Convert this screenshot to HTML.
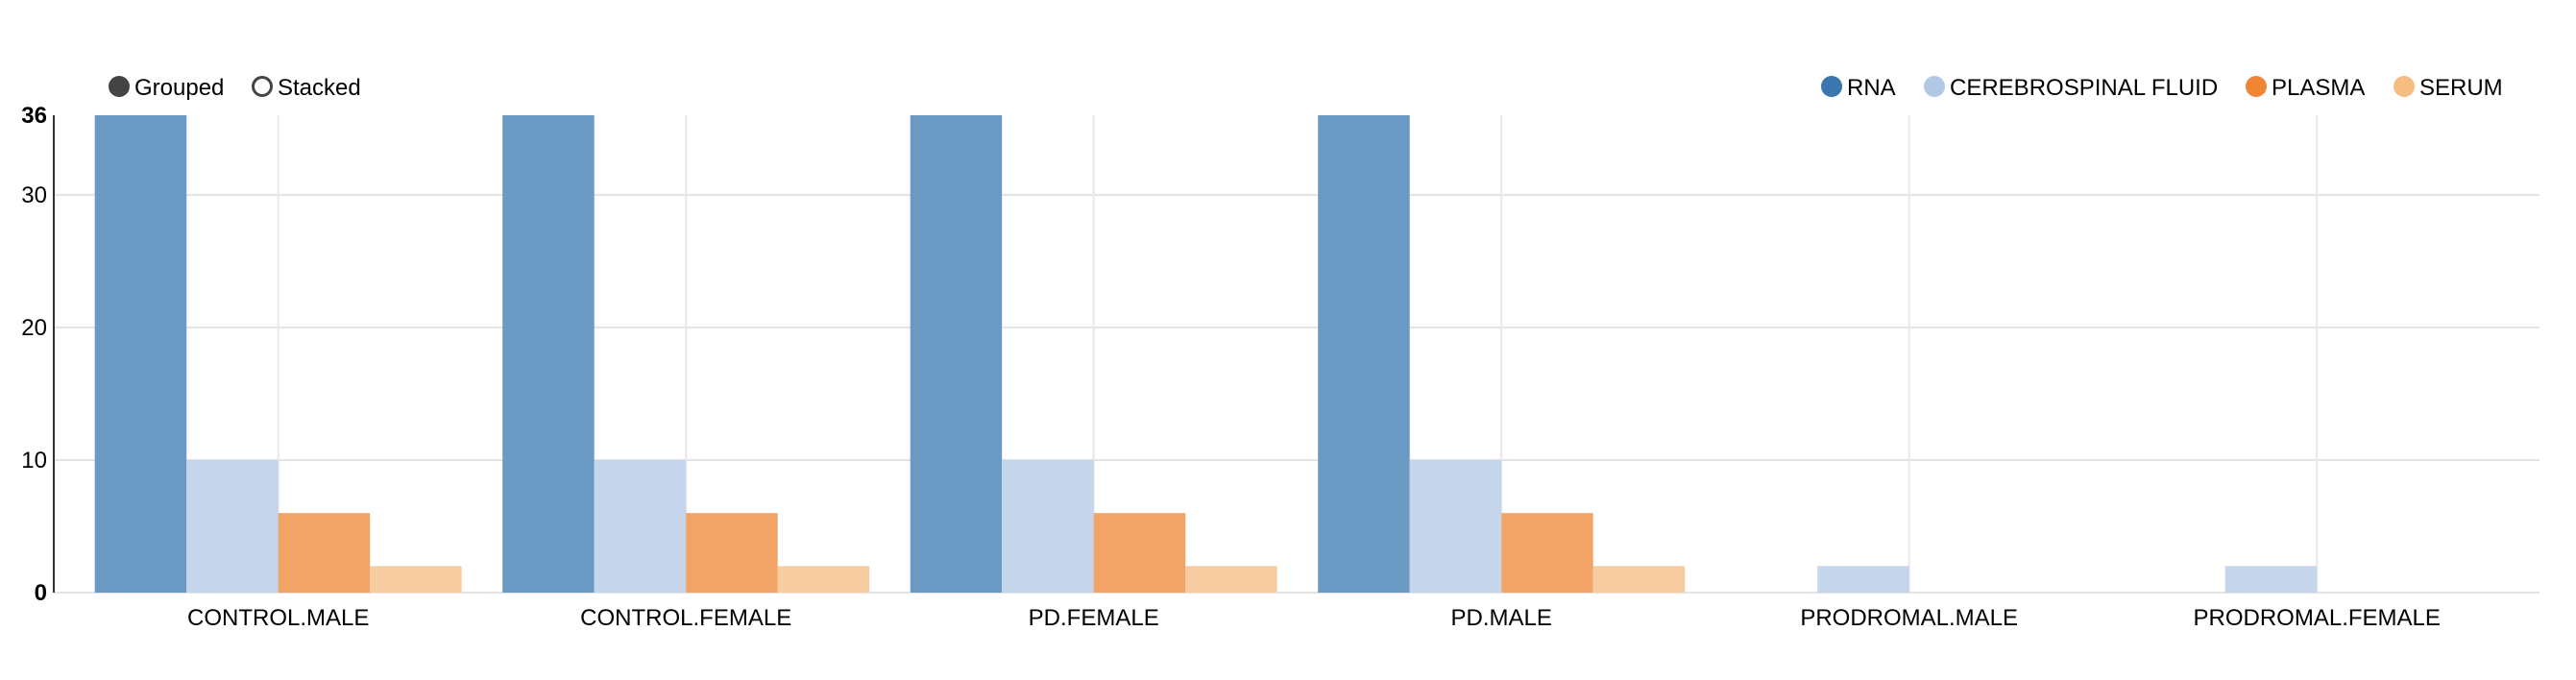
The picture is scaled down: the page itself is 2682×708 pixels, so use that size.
<!DOCTYPE html>
<html><head><meta charset="utf-8"><style>
html,body{margin:0;padding:0;background:#fff;width:2682px;height:708px;overflow:hidden}
svg text{font-family:"Liberation Sans",Arial,sans-serif}
</style></head><body>
<svg id="chart" width="2682" height="708" xmlns="http://www.w3.org/2000/svg">
<g>
  <g>
    <circle cx="124" cy="90" r="11" fill="#444"/>
    <text x="140" y="99" font-size="24" fill="#000">Grouped</text>
  </g>
  <g>
    <circle cx="273" cy="90" r="9.5" fill="#fff" stroke="#444" stroke-width="3"/>
    <text x="289" y="99" font-size="24" fill="#000">Stacked</text>
  </g>
</g>
<g id="legend"></g>
<g id="grid"></g>
<g id="bars"></g>
<g id="axes"></g>
</svg>
<script>
const categories = ["CONTROL.MALE","CONTROL.FEMALE","PD.FEMALE","PD.MALE","PRODROMAL.MALE","PRODROMAL.FEMALE"];
const seriesNames = ["RNA","CEREBROSPINAL FLUID","PLASMA","SERUM"];
const rnaValues = [36,36,36,36,0,0];
const csfValues = [10,10,10,10,2,2];
const plasmaValues = [6,6,6,6,0,0];
const serumValues = [2,2,2,2,0,0];
const yTicks = [0,10,20,30,36];
const yMax = 36;

const NS="http://www.w3.org/2000/svg";
const series=[rnaValues,csfValues,plasmaValues,serumValues];
const barFill=["#6a9ac4","#c5d5eb","#f2a467","#f7cca0"];
const legendFill=["#3a77b0","#b1c7e6","#ef8635","#f5bd82"];
const X0=56, X1=2644, YTOP=120, YBOT=617;
const groupStep=424.5, groupOffset=42.7, barW=95.5;
function y(v){return YBOT-(v/yMax)*(YBOT-YTOP);}
function gx(i){return X0+groupOffset+i*groupStep;}
function mk(tag,attrs,parent){const e=document.createElementNS(NS,tag);for(const k in attrs)e.setAttribute(k,attrs[k]);parent.appendChild(e);return e;}

const grid=document.getElementById('grid');
yTicks.forEach(t=>{
  if(t===yMax) return;
  const l=mk('line',{x1:X0,x2:X1,y1:y(t),y2:y(t),stroke:'#e3e3e3','stroke-width':2},grid);
  
  
});
categories.forEach((c,i)=>{
  const cx=gx(i)+barW*2;
  const l=mk('line',{x1:cx,x2:cx,y1:YTOP,y2:YBOT,stroke:'#e8e8e8','stroke-width':2},grid);
  
  
});

const bars=document.getElementById('bars');
categories.forEach((c,i)=>{
  series.forEach((s,j)=>{
    const v=Math.min(s[i],yMax);
    if(v<=0) return;
    const r=mk('rect',{x:gx(i)+j*barW,y:y(v),width:barW,height:YBOT-y(v),fill:barFill[j]},bars);
    
    
  });
});

const axes=document.getElementById('axes');
const al=mk('line',{x1:X0,x2:X0,y1:YTOP,y2:YBOT,stroke:'#333','stroke-width':2},axes);


yTicks.forEach(t=>{
  const bold=(t===0||t===yMax);
  const tx=mk('text',{x:49,y:y(t)+8,'font-size':24,'text-anchor':'end','font-weight':bold?'bold':'normal',fill:'#000'},axes);
  tx.textContent=t;
  
  
});
categories.forEach((c,i)=>{
  const tx=mk('text',{x:gx(i)+barW*2,y:651,'font-size':24,'text-anchor':'middle',fill:'#000'},axes);
  tx.textContent=c;
  
  
});

const legend=document.getElementById('legend');
const legendCx=[1907,2014,2349,2503];
seriesNames.forEach((n,j)=>{
  const g=mk('g',{},legend);
  
  
  mk('circle',{cx:legendCx[j],cy:90,r:11,fill:legendFill[j]},g);
  const t=mk('text',{x:legendCx[j]+16,y:99,'font-size':24,fill:'#000'},g);
  t.textContent=n;
});
</script>
</body></html>
